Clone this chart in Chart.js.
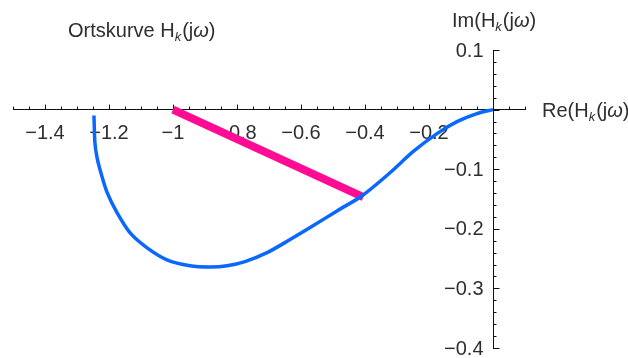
<!DOCTYPE html>
<html>
<head>
<meta charset="utf-8">
<script src="https://cdn.jsdelivr.net/npm/chart.js@4/dist/chart.umd.min.js"></script>
<style>
  html, body { margin: 0; padding: 0; background: #ffffff; }
  #wrap { width: 628px; height: 358px; position: relative; }
</style>
</head>
<body>
<div id="wrap"><canvas id="c" width="628" height="358"></canvas></div>
<script>
// Nyquist locus of H_k(jω): real and imaginary parts along the frequency sweep
const locusRe = [-1.247, -1.244, -1.238, -1.228, -1.206, -1.175, -1.134, -1.081, -1.019, -0.947, -0.884, -0.831, -0.775, -0.706, -0.634, -0.5625, -0.4875, -0.409, -0.322, -0.25, -0.175, -0.1125, -0.05, 0];
const locusIm = [-0.010, -0.0555, -0.079, -0.101, -0.139, -0.173, -0.207, -0.232, -0.252, -0.262, -0.264, -0.262, -0.255, -0.240, -0.218, -0.195, -0.170, -0.1445, -0.106, -0.0706, -0.0403, -0.0202, -0.0067, 0];

// Distance vector from the critical point −1 to the locus
const vectorRe = [-1, -0.405];
const vectorIm = [0, -0.147];

// Axis ranges and labelled ticks
const xRange = [-1.5, 0.1];
const yRange = [-0.4, 0.1];
const xTickValues = [-1.4, -1.2, -1, -0.8, -0.6, -0.4, -0.2];
const yTickValues = [0.1, -0.1, -0.2, -0.3, -0.4];
const xMinorStep = 0.05;
const yMinorStep = 0.02;

const fmt = v => {
  const s = String(Math.abs(Math.round(v * 100) / 100));
  return (v < 0 ? '\u2212' : '') + s;
};

const toPoints = (xs, ys) => xs.map((x, i) => ({ x: x, y: ys[i] }));

const FONT = "'Liberation Sans', Arial, sans-serif";
const TEXT = '#2e2e2e';

// Tick marks pointing into the plane, y tick labels and the axis captions
const axisDecor = {
  id: 'axisDecor',
  beforeDatasetsDraw(chart) {
    const { ctx, scales: { x, y } } = chart;
    const y0 = y.getPixelForValue(0);
    const x0 = Math.round(x.getPixelForValue(0)) + 0.5;
    ctx.save();
    ctx.strokeStyle = '#111';
    ctx.lineWidth = 1;
    ctx.beginPath();
    const nx = Math.round((xRange[1] - xRange[0]) / xMinorStep);
    for (let i = 0; i <= nx; i++) {
      const v = xRange[0] + i * xMinorStep;
      const major = Math.abs(Math.round(v * 5) - v * 5) < 1e-6;
      const px = Math.round(x.getPixelForValue(v)) + 0.5;
      ctx.moveTo(px, y0);
      ctx.lineTo(px, y0 - (major ? 5 : 3));
    }
    const ny = Math.round((yRange[1] - yRange[0]) / yMinorStep);
    for (let i = 0; i <= ny; i++) {
      const v = yRange[0] + i * yMinorStep;
      const major = Math.abs(Math.round(v * 10) - v * 10) < 1e-6;
      const py = Math.round(y.getPixelForValue(v)) + 0.5;
      ctx.moveTo(x0, py);
      ctx.lineTo(x0 + (major ? 6 : 3), py);
    }
    ctx.stroke();

    // y tick labels, right-aligned left of the vertical axis
    ctx.fillStyle = TEXT;
    ctx.font = '20px ' + FONT;
    ctx.textAlign = 'right';
    ctx.textBaseline = 'middle';
    for (const v of yTickValues) {
      ctx.fillText(fmt(v), x0 - 10, y.getPixelForValue(v) + 1);
    }
    ctx.restore();
  },
  afterDraw(chart) {
    const { ctx } = chart;
    ctx.save();
    // text with subscript k and italic ω
    const drawH = (parts, left, base) => {
      let cx = left;
      for (const p of parts) {
        ctx.font = p.f;
        ctx.fillText(p.t, cx, base + (p.dy || 0));
        cx += ctx.measureText(p.t).width + (p.gap || 0);
      }
    };
    const reg = '20px ' + FONT;
    const sub = 'italic 13px ' + FONT;
    const ital = 'italic 20px ' + FONT;
    ctx.fillStyle = TEXT;
    ctx.textBaseline = 'alphabetic';
    ctx.textAlign = 'left';
    const hk = (pre, close) => [
      { t: pre, f: reg }, { t: 'H', f: reg }, { t: 'k', f: sub, dy: 4, gap: 1 },
      { t: '(j', f: reg }, { t: '\u03c9', f: ital }, { t: close, f: reg }
    ];
    drawH(hk('Ortskurve ', ')'), 68, 37);
    drawH(hk('Im(', ')'), 452, 27);
    drawH(hk('Re(', ')'), 542, 117);
    ctx.restore();
  }
};

new Chart(document.getElementById('c'), {
  type: 'scatter',
  data: {
    datasets: [
      {
        data: toPoints(vectorRe, vectorIm),
        showLine: true,
        borderColor: '#ff0b94',
        borderWidth: 8,
        borderCapStyle: 'butt',
        pointRadius: 0,
        order: 2
      },
      {
        data: toPoints(locusRe, locusIm),
        showLine: true,
        borderColor: '#0a68ff',
        borderWidth: 3.5,
        tension: 0.3,
        pointRadius: 0,
        order: 1
      }
    ]
  },
  options: {
    responsive: false,
    animation: false,
    layout: { autoPadding: false, padding: { left: 13, right: 103, top: 50, bottom: 10 } },
    plugins: { legend: { display: false }, tooltip: { enabled: false } },
    scales: {
      x: {
        type: 'linear',
        min: xRange[0], max: xRange[1],
        position: { y: 0 },
        afterBuildTicks: s => { s.ticks = xTickValues.map(v => ({ value: v })); },
        grid: { display: false, drawTicks: false },
        border: { display: true, color: '#111', width: 1 },
        ticks: {
          callback: v => fmt(v),
          font: { family: FONT, size: 20 },
          color: TEXT,
          padding: 12,
          maxRotation: 0,
          autoSkip: false
        }
      },
      y: {
        type: 'linear',
        min: yRange[0], max: yRange[1],
        position: { x: 0 },
        afterBuildTicks: s => { s.ticks = yTickValues.map(v => ({ value: v })); },
        grid: { display: false, drawTicks: false },
        border: { display: true, color: '#111', width: 1 },
        ticks: { display: false }
      }
    }
  },
  plugins: [axisDecor]
});
</script>
</body>
</html>
